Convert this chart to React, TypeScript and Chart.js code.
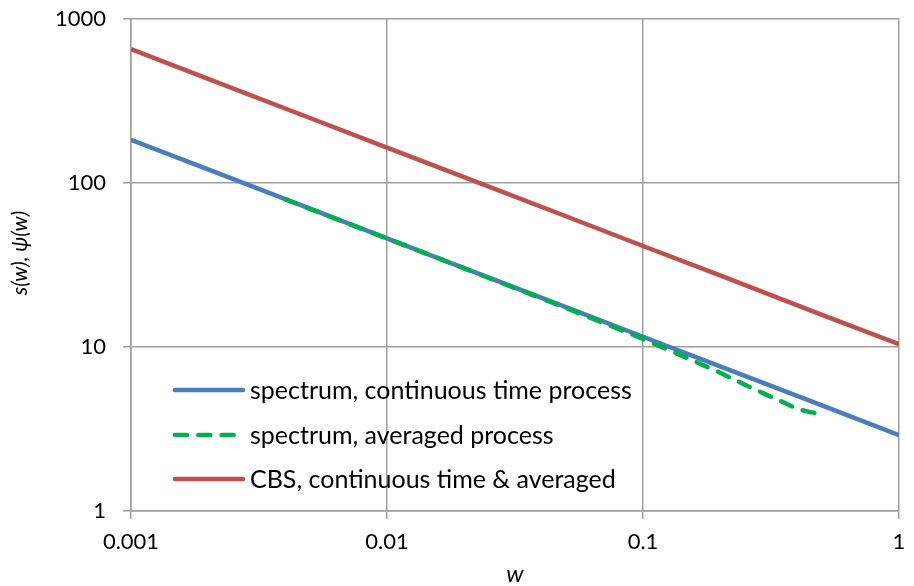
import { useEffect, useRef } from "react";
import { Chart, registerables } from "chart.js";

Chart.register(...registerables);

// ---- data ----
const xTicks = [0.001, 0.01, 0.1, 1];
const xTickLabels = ["0.001", "0.01", "0.1", "1"];
const yTicks = [1, 10, 100, 1000];
const yTickLabels = ["1", "10", "100", "1000"];

const wLine = [0.001, 0.002, 0.005, 0.01, 0.02, 0.05, 0.1, 0.2, 0.5, 1];
const spectrumContinuous = [183, 121, 69.7, 46, 30.3, 17.5, 11.55, 7.62, 4.4, 2.9];
const cbsValues = [655, 432, 249, 164.5, 108.6, 62.7, 41.3, 27.3, 15.7, 10.4];

const wAveraged = [0.004, 0.005, 0.01, 0.02, 0.05, 0.1, 0.15, 0.2, 0.25, 0.3, 0.35, 0.4, 0.45, 0.5];
const spectrumAveraged = [79.7, 69.6, 45.9, 30.2, 17.3, 11.2, 8.53, 6.97, 5.89, 5.16, 4.63, 4.19, 4.01, 3.88];

const seriesLabels = [
  "spectrum, continuous time process",
  "spectrum, averaged process",
  "CBS, continuous time & averaged",
];
const xTitle = "w";
const yTitle = "s(w), ψ(w)";

const FONT = "Lato, 'DejaVu Sans', sans-serif";
const GRID = "#a0a0a0";

const toPoints = (xs: number[], ys: number[]) => xs.map((x, i) => ({ x, y: ys[i] }));

const insideLegend = {
  id: "insideLegend",
  afterDatasetsDraw(chart: any) {
    const { ctx, chartArea } = chart;
    const rows = [371, 416, 460];
    ctx.save();
    chart.data.datasets.forEach((ds: any, k: number) => {
      const y = chartArea.top + rows[k];
      const x0 = chartArea.left + 44;
      const x1 = chartArea.left + 112;
      ctx.beginPath();
      ctx.setLineDash(ds.borderDash || []);
      ctx.lineCap = "round";
      ctx.lineWidth = ds.borderWidth;
      ctx.strokeStyle = ds.borderColor;
      ctx.moveTo(x0, y);
      ctx.lineTo(x1, y);
      ctx.stroke();
      ctx.setLineDash([]);
      ctx.fillStyle = "#000";
      ctx.font = `25px ${FONT}`;
      ctx.textBaseline = "middle";
      ctx.textAlign = "left";
      ctx.fillText(ds.label, chartArea.left + 119, y + 1);
    });
    // y-axis title
    ctx.save();
    ctx.translate(20, chartArea.top + 234);
    ctx.rotate(-Math.PI / 2);
    ctx.font = `italic 21px ${FONT}`;
    ctx.textAlign = "center";
    ctx.textBaseline = "middle";
    ctx.fillStyle = "#000";
    ctx.fillText(yTitle, 0, 0);
    ctx.restore();
    ctx.restore();
  },
};

export default function App() {
  const ref = useRef<HTMLCanvasElement | null>(null);

  useEffect(() => {
    document.body.style.margin = "0";
    const canvas = ref.current!;
    const chart = new Chart(canvas, {
      type: "line",
      data: {
        datasets: [
          {
            label: seriesLabels[0],
            data: toPoints(wLine, spectrumContinuous),
            borderColor: "#4a7ebb",
            borderWidth: 4.5,
            pointRadius: 0,
            tension: 0,
            order: 1,
          },
          {
            label: seriesLabels[1],
            data: toPoints(wAveraged, spectrumAveraged),
            borderColor: "#00b050",
            borderWidth: 4.5,
            borderDash: [12, 11.3],
            borderCapStyle: "round",
            pointRadius: 0,
            tension: 0,
            order: 0,
          },
          {
            label: seriesLabels[2],
            data: toPoints(wLine, cbsValues),
            borderColor: "#c0504d",
            borderWidth: 4.5,
            pointRadius: 0,
            tension: 0,
            order: 2,
          },
        ],
      },
      options: {
        responsive: false,
        animation: false,
        devicePixelRatio: 1,
        layout: { padding: { top: 19, right: 15, left: 0, bottom: 0 } },
        plugins: {
          legend: { display: false },
          tooltip: { enabled: false },
        },
        scales: {
          x: {
            type: "logarithmic",
            min: 0.001,
            max: 1,
            afterBuildTicks: (s: any) => {
              s.ticks = xTicks.map((v) => ({ value: v }));
            },
            afterFit: (s: any) => {
              s.height = 75;
              s.paddingLeft = 0;
              s.paddingRight = 0;
            },
            ticks: {
              callback: (v: any) => xTickLabels[xTicks.indexOf(Number(v))] ?? "",
              font: { family: FONT, size: 22 },
              color: "#000",
              padding: 10,
              maxRotation: 0,
              autoSkip: false,
            },
            grid: { color: GRID, lineWidth: 1.5, tickLength: 8, tickColor: GRID },
            border: { color: GRID, width: 1.5 },
            title: {
              display: true,
              text: xTitle,
              font: { family: FONT, size: 24, style: "italic", lineHeight: 1 },
              color: "#000",
              padding: { top: 0, bottom: 0 },
            },
          },
          y: {
            type: "logarithmic",
            min: 1,
            max: 1000,
            afterBuildTicks: (s: any) => {
              s.ticks = yTicks.map((v) => ({ value: v }));
            },
            afterFit: (s: any) => {
              s.width = 131;
              s.paddingTop = 0;
              s.paddingBottom = 0;
            },
            ticks: {
              callback: (v: any) => yTickLabels[yTicks.indexOf(Number(v))] ?? "",
              font: { family: FONT, size: 22 },
              color: "#000",
              padding: 17,
              autoSkip: false,
            },
            grid: { color: GRID, lineWidth: 1.5, tickLength: 8, tickColor: GRID },
            border: { color: GRID, width: 1.5 },
            title: { display: false },
          },
        },
      },
      plugins: [insideLegend],
    } as any);
    return () => chart.destroy();
  }, []);

  return <canvas ref={ref} width={914} height={586} style={{ display: "block" }} />;
}
